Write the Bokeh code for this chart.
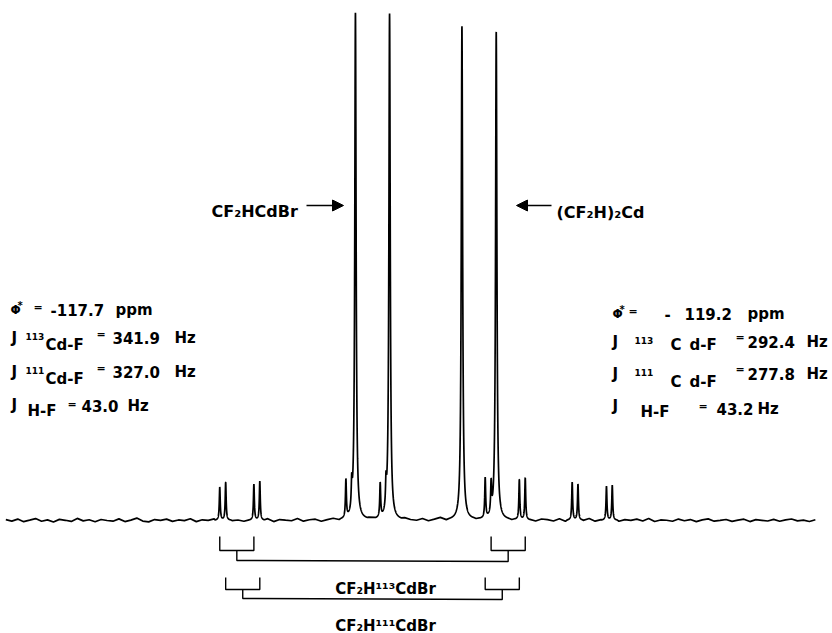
import numpy as np
from bokeh.plotting import figure
from bokeh.models import Range1d, Arrow, NormalHead
from bokeh.core.properties import value
from bokeh.embed import file_html
from bokeh.resources import INLINE

# ---------------- data ----------------
compounds = ["CF₂HCdBr", "(CF₂H)₂Cd"]
phi_ppm = [-117.7, -119.2]
center_hz = [0.0, 134.3]          # line centres, Hz (relative)
J_113 = [341.9, 292.4]            # Hz
J_111 = [327.0, 277.8]            # Hz
J_HF = [43.0, 43.2]               # Hz
main_heights = [[507, 506], [494, 488]]
# satellite heights, order: (-J/2-JHF/2, -J/2+JHF/2, +J/2-JHF/2, +J/2+JHF/2)
sat113_heights = [[33, 36, 30, 42], [38, 34, 36, 35]]
sat111_heights = [[38, 39, 40, 40], [25, 25, 38, 34]]
main_hwhm = 1.0
sat_hwhm = 0.7
# baseline noise (intensity units), sampled every 7.5 Hz from -462 Hz
noise_start = -462.0
noise_step = 7.5
baseline_noise = [
    0.8, -0.6, 1.4, -1.2, 0.3, 1.9, -0.8, 0.6, -1.5, 1.1,
    0.2, -0.9, 2.1, -0.4, 0.7, -1.3, 1.0, 0.0, -0.7, 1.6,
    -1.1, 0.4, 2.4, -0.6, -1.4, 0.9, 0.1, 1.3, -0.9, 0.5,
    -0.2, 1.7, -1.2, 0.6, 0.0, 1.1, -0.8, 2.0, -0.5, 0.3,
    -1.0, 1.2, 0.4, -0.6, 1.5, -1.3, 0.8, 0.2, -0.4, 1.9,
    -0.9, 0.5, 1.0, -1.2, 0.3, 1.4, -0.7, 0.6, -0.1, 1.2,
    -1.0, 0.7, 0.2, 1.6, -0.8, 0.4, -1.3, 1.1, 0.0, -0.5,
    1.3, -0.9, 0.6, 2.2, -0.7, 0.3, -1.1, 0.9, 0.4, -0.6,
    1.4, -1.2, 0.5, 0.1, 1.0, -0.8, 1.7, -0.4, 0.2, -1.0,
    1.2, 0.6, -0.7, 1.5, -1.3, 0.3, 0.9, -0.5, 1.8, -0.9,
    0.4, -0.2, 1.1, -1.1, 0.7, 0.0, 1.3, -0.6, 2.0, -1.0,
    0.5, 0.2, -0.8, 1.4, -0.3, 0.9, -1.2, 0.6, 1.6, -0.7,
    0.1, 1.0, -0.9, 0.4, 1.3, -1.1, 0.8, 0.2, -0.5, 1.1,
    -0.8, 0.6, 1.5, -0.4, 0.3, -1.0, 0.7,
]
iso_labels = ["CF₂H¹¹³CdBr", "CF₂H¹¹¹CdBr"]

# ---------------- layout helpers (image px -> data) ----------------
SC, X0, Y0 = 1.26, 372.0, 520.0
W, H = 832, 633
def hx(px):
    return (px - X0) * SC
def vy(py):
    return Y0 - py

FONT = value("DejaVu Sans")

# ---------------- build peak list ----------------
peaks = []  # (pos, height, hwhm, window)
sat_pos = {}
for c in range(2):
    c0, jhf = center_hz[c], J_HF[c]
    for k, s in enumerate((-1, 1)):
        peaks.append((c0 + s * jhf / 2, main_heights[c][k], main_hwhm, 15.0))
    for iso, J, hts in (("113", J_113[c], sat113_heights[c]), ("111", J_111[c], sat111_heights[c])):
        pos = [c0 - J / 2 - jhf / 2, c0 - J / 2 + jhf / 2, c0 + J / 2 - jhf / 2, c0 + J / 2 + jhf / 2]
        sat_pos[(c, iso)] = pos
        for p_, h in zip(pos, hts):
            peaks.append((p_, h, sat_hwhm, 6.0))

def spectrum(x):
    y = np.zeros_like(x)
    for p_, h, w, _ in peaks:
        y += h * w * w / ((x - p_) ** 2 + w * w)
    return y

def near_peak(x):
    m = np.zeros_like(x, dtype=bool)
    for p_, _, _, win in peaks:
        m |= np.abs(x - p_) < win
    return m

nx = noise_start + noise_step * np.arange(len(baseline_noise))
nn = np.array(baseline_noise)
keep = ~near_peak(nx)
fx = np.arange(nx[0], nx[-1], 0.08)
fx = fx[near_peak(fx)]
xs = np.concatenate([nx[keep], fx])
ys = np.concatenate([nn[keep] + spectrum(nx[keep]), spectrum(fx)])
order = np.argsort(xs)
xs, ys = xs[order], ys[order]

# ---------------- figure ----------------
p = figure(width=W, height=H, output_backend="svg", toolbar_location=None,
           x_range=Range1d(hx(0), hx(W)), y_range=Range1d(vy(H), vy(0)),
           min_border=0)
p.axis.visible = False
p.xgrid.visible = False
p.ygrid.visible = False
p.outline_line_color = None
p.background_fill_color = "white"

p.line(xs, ys, line_color="black", line_width=1.7)

# brackets for the Cd satellites of CF2HCdBr
def bracket(pos, y_top, y_bot, y_line):
    a, b, c_, d = pos
    lm, rm = (a + b) / 2, (c_ + d) / 2
    bxs = [[a, a, b, b], [c_, c_, d, d], [lm, lm, rm, rm]]
    bys = [[vy(y_top), vy(y_bot), vy(y_bot), vy(y_top)],
           [vy(y_top), vy(y_bot), vy(y_bot), vy(y_top)],
           [vy(y_bot), vy(y_line), vy(y_line + 1), vy(y_bot)]]
    p.multi_line(bxs, bys, line_color="black", line_width=1.4)

bracket(sat_pos[(0, "113")], 536, 550, 560)
bracket(sat_pos[(0, "111")], 577, 589, 598)

def txt(s, px, py, size=15, align="left", color="black"):
    p.text(x=[hx(px)], y=[vy(py)], text=[s], text_font=FONT, text_font_style="bold",
           text_font_size=f"{size}px", text_align=align, text_baseline="alphabetic",
           text_color=color)

txt(iso_labels[0], 385, 588, 15, "center")
txt(iso_labels[1], 385, 625, 15, "center")

# compound labels and arrows
txt(compounds[0], 211, 211, 16)
txt(compounds[1], 556, 212, 16)
p.add_layout(Arrow(end=NormalHead(size=11, fill_color="black", line_color="black"),
                   x_start=hx(306), y_start=vy(205), x_end=hx(343), y_end=vy(205),
                   line_width=1.6, line_color="black"))
p.add_layout(Arrow(end=NormalHead(size=11, fill_color="black", line_color="black"),
                   x_start=hx(551), y_start=vy(205), x_end=hx(516), y_end=vy(205),
                   line_width=1.6, line_color="black"))

# parameter block, CF2HCdBr (left)
c = 0
txt("Φ", 10, 309, 12)
txt("*", 17, 305, 10)
txt("=", 33, 307, 11)
txt(f"{phi_ppm[c]:.1f}", 50, 309)
txt("ppm", 115, 309)
for iso, J, yb in (("113", J_113[c], 337), ("111", J_111[c], 371)):
    txt("J", 11, yb)
    txt(iso, 25, yb - 1, 9)
    txt("Cd-F", 45, yb + 7)
    txt("=", 96, yb - 3, 11)
    txt(f"{J:.1f}", 112, yb)
    txt("Hz", 174, yb)
txt("J", 11, 404)
txt("H-F", 27, 410)
txt("=", 67, 404, 11)
txt(f"{J_HF[c]:.1f}", 81, 405)
txt("Hz", 127, 405)

# parameter block, (CF2H)2Cd (right)
c = 1
txt("Φ", 612, 313, 12)
txt("*", 619, 309, 10)
txt("=", 628, 311, 11)
txt("-", 664, 313)
txt(f"{abs(phi_ppm[c]):.1f}", 684, 313)
txt("ppm", 747, 313)
for iso, J, yb, dy in (("113", J_113[c], 341, 3), ("111", J_111[c], 373, 8)):
    txt("J", 612, yb)
    txt(iso, 634, yb - 1, 9)
    txt("C", 670, yb + dy)
    txt("d-F", 689, yb + dy)
    txt("=", 735, yb - 4, 11)
    txt(f"{J:.1f}", 747, yb)
    txt("Hz", 806, yb)
txt("J", 612, 405)
txt("H-F", 640, 411)
txt("=", 698, 406, 11)
txt(f"{J_HF[c]:.1f}", 716, 408)
txt("Hz", 757, 408)

with open("out.html", "w") as f:
    f.write(file_html(p, INLINE))
